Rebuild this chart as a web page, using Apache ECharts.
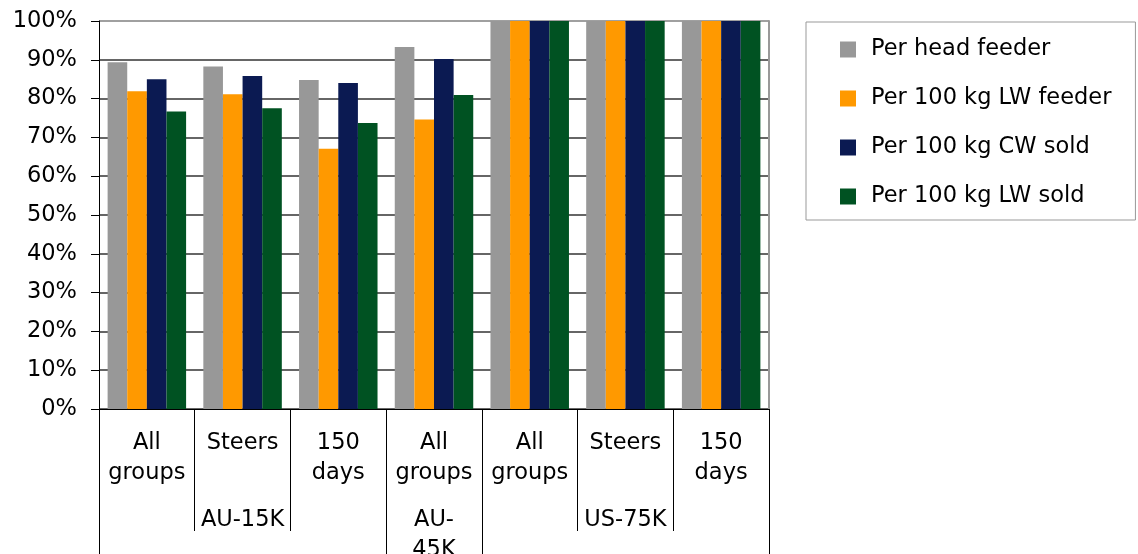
<!DOCTYPE html>
<html>
<head>
<meta charset="utf-8">
<script src="https://cdn.jsdelivr.net/npm/echarts@6/dist/echarts.min.js"></script>
<style>
html,body{margin:0;padding:0;background:#fff;}
#chart{width:1138px;height:554px;}
</style>
</head>
<body>
<div id="chart"></div>
<script>
// Data
var subcategories = ['All\ngroups', 'Steers', '150\ndays', 'All\ngroups', 'All\ngroups', 'Steers', '150\ndays'];
var groups = ['AU-15K', 'AU-45K', 'US-75K'];
var groupSpans = [3, 1, 3];
var seriesNames = ['Per head feeder', 'Per 100 kg LW feeder', 'Per 100 kg CW sold', 'Per 100 kg LW sold'];
var perHeadFeeder   = [89.4, 88.3, 84.8, 93.3, 100, 100, 100];
var per100LWFeeder  = [81.9, 81.1, 67.1, 74.6, 100, 100, 100];
var per100CWSold    = [85.0, 85.8, 84.0, 90.2, 100, 100, 100];
var per100LWSold    = [76.7, 77.5, 73.7, 80.9, 100, 100, 100];
var yTicks = [0, 10, 20, 30, 40, 50, 60, 70, 80, 90, 100];

var colors = ['#989898', '#FF9900', '#0B1A52', '#005222'];
var FONT = 'Verdana, "DejaVu Sans", sans-serif';
var FS = 22.5;

// Build group axis labels and boundary indices
var groupLabels = [];
var groupStarts = {};
var idx = 0;
groups.forEach(function (g, i) {
  var span = groupSpans[i];
  groupStarts[idx] = true;
  var center = idx + Math.floor(span / 2);
  for (var k = 0; k < span; k++) {
    var lab = '';
    if (idx + k === center) lab = span === 1 ? g.replace('-', '-\n') : g;
    groupLabels.push(lab);
  }
  idx += span;
});

var allSeries = [perHeadFeeder, per100LWFeeder, per100CWSold, per100LWSold].map(function (d, i) {
  return {
    name: seriesNames[i],
    type: 'bar',
    data: d,
    xAxisIndex: 0,
    yAxisIndex: 0,
    barGap: '0%',
    barCategoryGap: '18%',
    itemStyle: { color: colors[i] },
    emphasis: { disabled: true }
  };
});

var splitColors = yTicks.map(function (t) { return t === 100 ? '#808080' : '#333333'; });

var chart = echarts.init(document.getElementById('chart'));
chart.setOption({
  animation: false,
  textStyle: { fontFamily: FONT },
  grid: { left: 99, right: 369, top: 21, bottom: 145, containLabel: false, outerBoundsMode: 'none' },
  legend: {
    orient: 'vertical',
    left: 806,
    top: 22,
    padding: [16, 24, 12, 34],
    borderColor: '#999999',
    borderWidth: 1,
    itemWidth: 16,
    itemHeight: 16,
    itemGap: 26,
    icon: 'rect',
    selectedMode: false,
    textStyle: { fontFamily: FONT, fontSize: FS, lineHeight: 22, color: '#000', padding: [0, 0, 0, 10] },
    data: seriesNames
  },
  xAxis: [
    {
      type: 'category',
      data: subcategories,
      position: 'bottom',
      axisLine: { show: true, lineStyle: { color: '#000', width: 1 } },
      axisTick: { show: true, length: 122, lineStyle: { color: '#000', width: 1 } },
      axisLabel: { interval: 0, margin: 19, fontFamily: FONT, fontSize: FS, lineHeight: 30, color: '#000', verticalAlign: 'top' },
      splitLine: { show: false }
    },
    {
      type: 'category',
      data: groupLabels,
      position: 'bottom',
      offset: 0,
      axisLine: { show: false },
      axisTick: {
        show: true,
        length: 150,
        interval: function (index) { return !!groupStarts[index]; },
        lineStyle: { color: '#000', width: 1 }
      },
      axisLabel: { interval: 0, margin: 96, fontFamily: FONT, fontSize: FS, lineHeight: 30, color: '#000', verticalAlign: 'top' },
      splitLine: { show: false }
    }
  ],
  yAxis: [
    {
      type: 'value',
      min: 0,
      max: 100,
      interval: 10,
      position: 'left',
      axisLine: { show: true, lineStyle: { color: '#000', width: 1 } },
      axisTick: { show: true, length: 8, lineStyle: { color: '#000', width: 1 } },
      axisLabel: { margin: 22, fontFamily: FONT, fontSize: FS, color: '#000', formatter: '{value}%' },
      splitLine: { show: true, lineStyle: { color: splitColors, width: 1.5 } }
    },
    {
      type: 'value',
      min: 0,
      max: 100,
      interval: 10,
      position: 'right',
      axisLine: { show: true, lineStyle: { color: '#999999', width: 2 } },
      axisTick: { show: false },
      axisLabel: { show: false },
      splitLine: { show: false }
    }
  ],
  series: allSeries
});
</script>
</body>
</html>
